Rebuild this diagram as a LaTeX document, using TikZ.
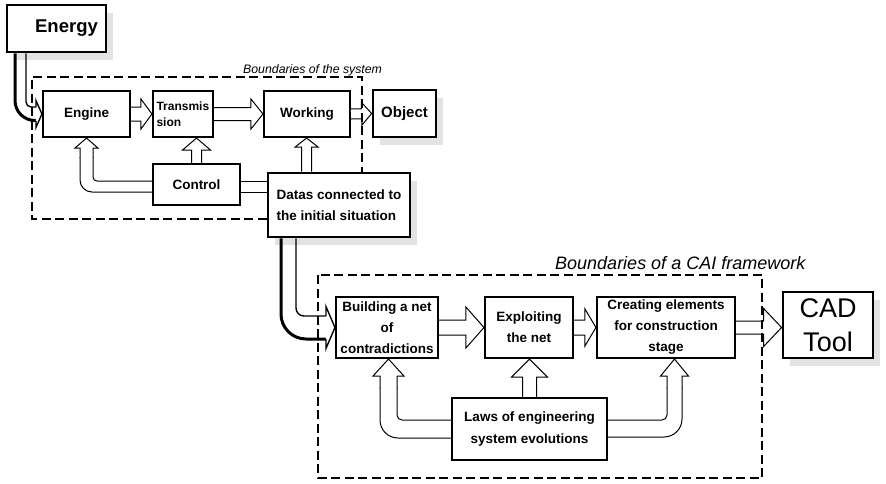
\documentclass[tikz,border=0pt]{standalone}
\usepackage{fontspec}
\setmainfont{Liberation Sans}
\usetikzlibrary{calc,shadows}
\newcommand\harr[6][]{%
  \path[hol,#1] let \p1=($#3-#2$), \n1={veclen(\x1,\y1)}, \n2={atan2(\y1,\x1)} in
    [shift={#2}, rotate=\n2]
    (0,#4) -- (\n1-#6,#4) -- (\n1-#6,#5) -- (\n1,0) -- (\n1-#6,-#5) -- (\n1-#6,-#4) -- (0,-#4);%
}
\tikzset{
  box/.style={draw, line width=2.1pt, fill=white, inner sep=0pt, align=center,
    font=\bfseries\fontsize{13.5}{21}\selectfont},
  hol/.style={draw=black, line width=1pt, fill=white, line join=miter, miter limit=20},
  hline/.style={draw=black, line width=1pt},
  bnd/.style={line width=2.8pt, dash pattern=on 9pt off 4.5pt},
  shad/.style={drop shadow={shadow xshift=7pt, shadow yshift=-8pt, fill=gray!22, opacity=1}},
}
\begin{document}
\begin{tikzpicture}[x=1pt,y=-1pt]
\useasboundingbox (0,0) rectangle (886,483);
% upper boxes
\node[box, shad, line width=2.5pt, minimum width=99pt, minimum height=47pt,
  font=\bfseries\fontsize{18.5}{22}\selectfont] (energy) at (56.5,28.5) {\hspace*{20pt}Energy};
\node[box, minimum width=87pt, minimum height=46pt] (eng) at (86.5,114) {Engine};
\node[box, minimum width=60pt, minimum height=46pt, text width=53pt, align=left,
  font=\bfseries\fontsize{12}{16}\selectfont] (tra) at (183,114) {Transmis\\sion};
\node[box, minimum width=86pt, minimum height=46pt] (wrk) at (307,114) {\raisebox{3pt}{Working}};
\node[box, shad, line width=2.8pt, minimum width=63pt, minimum height=47pt,
  font=\bfseries\fontsize{15}{18}\selectfont] (obj) at (404.5,113.5) {\raisebox{3pt}{Object}};
\node[box, minimum width=87pt, minimum height=41pt] (ctl) at (196.5,184.5) {Control};
\node[box, shad, line width=2.8pt, minimum width=142pt, minimum height=64pt, align=left]
  (dat) at (339,205) {Datas connected to\\the initial situation};
% lower boxes
\node[box, minimum width=102pt, minimum height=61pt] (bld) at (387,327.5) {Building a net\\of\\contradictions};
\node[box, minimum width=88pt, minimum height=61pt] (exp) at (529,327.5) {Exploiting\\the net};
\node[box, minimum width=138pt, minimum height=61pt] (cre) at (666,327.5) {Creating elements\\for construction\\stage};
\node[box, shad, line width=2.8pt, minimum width=90pt, minimum height=66pt,
  font=\fontsize{27}{34}\selectfont] (cad) at (828,325) {CAD\\Tool};
\node[box, minimum width=155pt, minimum height=62pt] (laws) at (529.5,429) {Laws of engineering\\system evolutions};
% labels
\node[font=\itshape\fontsize{12.3}{14}\selectfont, anchor=base west, inner sep=0pt] (lsys) at (243,73) {Boundaries of the system};
\node[font=\itshape\fontsize{18}{20}\selectfont, anchor=base west, inner sep=0pt] (lcai) at (555,269) {Boundaries of a CAI framework};
% straight hollow arrows
\harr{(eng.east)}{(tra.west)}{7}{15}{11}
\harr{(tra.east)}{(wrk.west)}{6.5}{15}{12}
\harr{(wrk.east)}{(obj.west)}{5}{11.5}{10}
\harr{(ctl.north)}{(ctl.north |- tra.south)}{5}{14}{12}
\coordinate (dw) at ($(dat.north west)+(40,0)$);
\harr{(dw)}{(dw |- wrk.south)}{5}{11.5}{9}
\harr{(bld.east)}{(exp.west)}{7.5}{20.5}{18}
\harr{(exp.east)}{(cre.west)}{7.5}{18.5}{11}
\harr{(cre.east)}{(cre.east -| cad.west)}{6.5}{19}{18}
\harr{(laws.north)}{(laws.north |- exp.south)}{7}{18}{18}
% band control - datas
\draw[hline] (ctl.east |- 0,181) -- (dat.west |- 0,181);
\draw[hline] (ctl.east |- 0,192) -- (dat.west |- 0,192);
% control -> engine
\coordinate (ce) at ($(eng.south)+(0,20)$);
\draw[hline, rounded corners=12pt] (ctl.west |- 0,192) -- (80,192) -- (80,157);
\draw[hline, rounded corners=4pt] (ctl.west |- 0,181) -- (93,181) -- (93,157);
\harr{(ce)}{(eng.south)}{6.5}{11.5}{10}
% laws -> building
\coordinate (lb) at ($(bld.south)+(1.5,30)$);
\draw[hline, rounded corners=18pt] (laws.west |- 0,438) -- (380,438) -- (380,388);
\draw[hline, rounded corners=5pt] (laws.west |- 0,420) -- (397,420) -- (397,388);
\harr{(lb)}{(lb |- bld.south)}{8.5}{15.5}{17}
% laws -> creating
\coordinate (lc) at ($(cre.south)+(8.5,30)$);
\draw[hline, rounded corners=18pt] (laws.east |- 0,437) -- (682,437) -- (682,388);
\draw[hline, rounded corners=5pt] (laws.east |- 0,420) -- (667,420) -- (667,388);
\harr{(lc)}{(lc |- cre.south)}{7.5}{14}{17}
% energy -> engine
\coordinate (ee) at ($(eng.west)+(-6,0)$);
\draw[line width=3pt, rounded corners=20pt] (energy.south west -| 15,0) -- (15,120.5) -- (ee |- 0,120.5);
\draw[line width=1.4pt, rounded corners=5pt] (energy.south west -| 26,0) -- (26,107) -- (ee |- 0,107);
\harr[line width=1.4pt]{(ee)}{(eng.west)}{6.75}{13.5}{6}
% datas -> building
\coordinate (db) at ($(bld.west)+(-9,0)$);
\draw[line width=3pt, rounded corners=25pt] (dat.south west -| 281,0) -- (281,339) -- (db |- 0,339);
\draw[line width=1.4pt, rounded corners=8pt] (dat.south west -| 296,0) -- (296,316) -- (db |- 0,316);
\harr[line width=1.4pt]{(db)}{(bld.west)}{11.5}{21}{9}
% boundaries
\draw[bnd] (dat.west |- 0,219) -- (32,219) -- (32,77) -- (362,77) -- (dat.north -| 362,0);
\draw[bnd] (318,275) rectangle (762,478);
\end{tikzpicture}
\end{document}
